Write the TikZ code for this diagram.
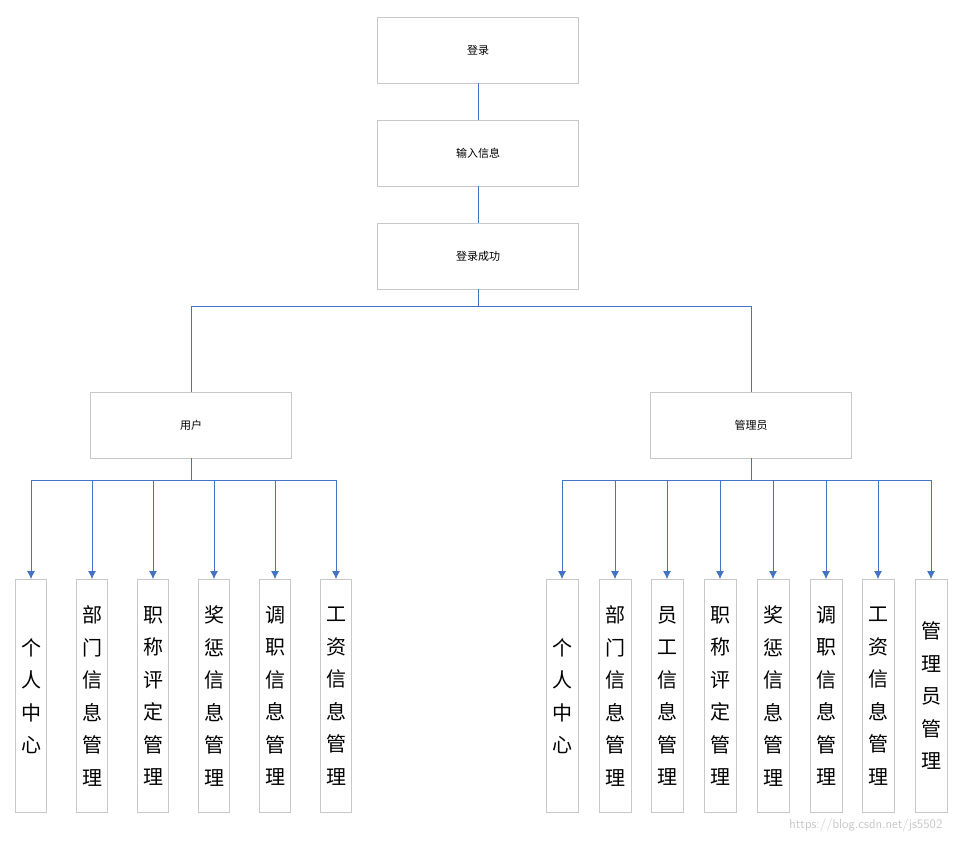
\documentclass[tikz,border=0pt]{standalone}
\usepackage{fontspec}
\setmainfont{Noto Sans CJK SC}
\definecolor{linkblue}{RGB}{68,114,196}
\definecolor{boxgray}{RGB}{200,200,200}
\begin{document}
\begin{tikzpicture}[x=1pt,y=-1pt,
    box/.style={draw=boxgray,line width=0.8pt,minimum width=201pt,minimum height=66pt,inner sep=0pt,font=\fontsize{11}{13}\selectfont},
    leaf/.style={draw=boxgray,line width=0.8pt,minimum width=31pt,minimum height=233pt,inner sep=0pt,align=center,font=\fontsize{20}{32.5}\selectfont},
    link/.style={draw=linkblue,line width=1pt},
    arr/.style={link,-{Latex[length=8pt,width=8pt]}}]
    \useasboundingbox (0,0) rectangle (954,843);
    \usetikzlibrary{arrows.meta}
    % top chain
    \node[box] (login) at (478,50) {登录};
    \node[box] (input) at (478,153) {输入信息};
    \node[box] (ok) at (478,256) {登录成功};
    \node[box] (user) at (191,425) {用户};
    \node[box] (admin) at (751,425) {管理员};
    \draw[link] (login) -- (input);
    \draw[link] (input) -- (ok);
    \draw[link] (ok.south) -- +(0,17) -| (user.north);
    \draw[link] (ok.south) -- +(0,17) -| (admin.north);
    % user leaves
    \foreach \i/\x/\t in {1/31/个\\人\\中\\心, 2/92/部\\门\\信\\息\\管\\理, 3/153/职\\称\\评\\定\\管\\理,
        4/214/奖\\惩\\信\\息\\管\\理, 5/275/调\\职\\信\\息\\管\\理, 6/336/工\\资\\信\\息\\管\\理} {
        \node[leaf] (u\i) at (\x,696) {\t};
        \draw[arr] (user.south) -- +(0,22) -| (u\i.north);
    }
    % admin leaves
    \foreach \i/\x/\t in {1/562/个\\人\\中\\心, 2/615/部\\门\\信\\息\\管\\理, 3/667/员\\工\\信\\息\\管\\理,
        4/720/职\\称\\评\\定\\管\\理, 5/773/奖\\惩\\信\\息\\管\\理, 6/826/调\\职\\信\\息\\管\\理,
        7/878/工\\资\\信\\息\\管\\理, 8/931/管\\理\\员\\管\\理} {
        \node[leaf,minimum width=32pt] (a\i) at (\x,696) {\t};
        \draw[arr] (admin.south) -- +(0,22) -| (a\i.north);
    }
    \node[text=gray!45,font=\fontsize{13}{15}\selectfont\sffamily,anchor=east] (mark) at (946,825) {https://blog.csdn.net/js5502};
\end{tikzpicture}
\end{document}
